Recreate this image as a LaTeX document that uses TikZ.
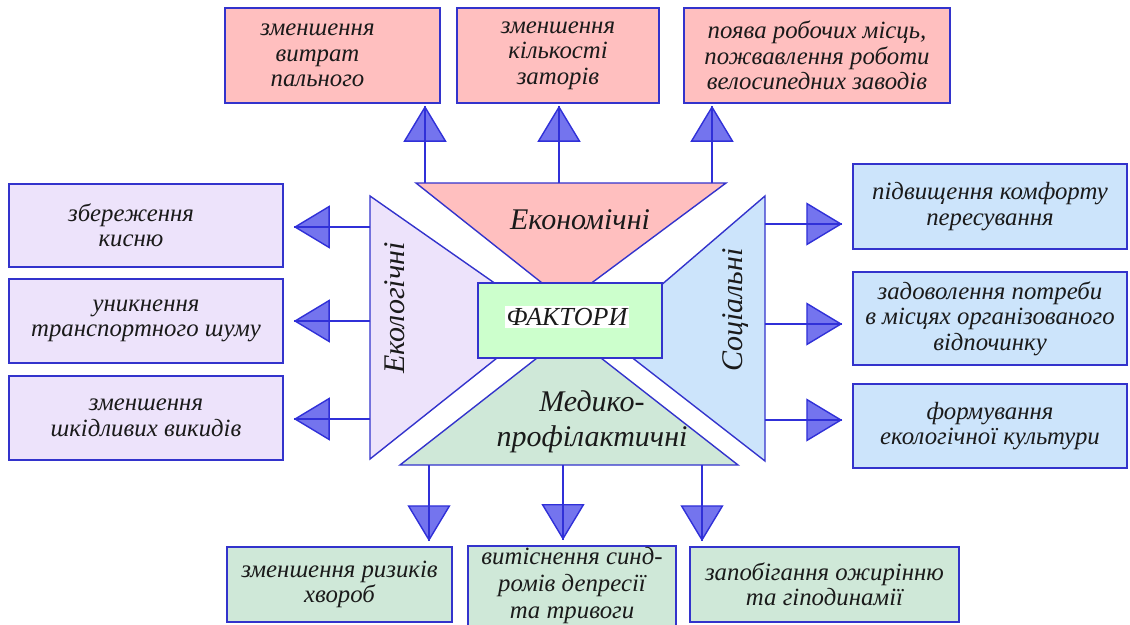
\documentclass[tikz,border=0pt]{standalone}
\usepackage{fontspec}
\setmainfont{Liberation Serif}
\usetikzlibrary{arrows.meta}
\definecolor{bord}{HTML}{3333CC}
\definecolor{pinkf}{HTML}{FFBFBF}
\definecolor{lavf}{HTML}{EDE3FB}
\definecolor{bluef}{HTML}{CCE4FB}
\definecolor{greenf}{HTML}{CFE8D8}
\definecolor{factf}{HTML}{CCFFCC}
\definecolor{arrf}{HTML}{7474EE}
\definecolor{arrd}{HTML}{3030D8}
\definecolor{txtc}{HTML}{1A1A1A}
\begin{document}
\begin{tikzpicture}[x=1pt,y=-1pt,
  box/.style={draw=bord, line width=1.5pt, inner sep=2pt, align=center, text=txtc,
    font=\fontsize{24.8}{25.5}\selectfont\itshape},
  tri/.style={draw=bord, line width=1.4pt},
  big/.style={text=txtc, font=\fontsize{30}{35}\selectfont\itshape, align=center},
  conn/.style={draw=arrd, line width=1.4pt,
    -{Triangle[width=43pt,length=36pt,fill=arrf]}, postaction={draw=arrd, -}}]
\useasboundingbox (0,0) rectangle (1130,624);

% ---- triangles
\draw[tri, fill=pinkf] (416,183) -- (726,183) -- (566,302) -- cycle;
\draw[tri, fill=lavf] (370,196) -- (370,459) -- (546,319) -- cycle;
\draw[tri, fill=bluef] (765,196) -- (765,461) -- (603,335) -- cycle;
\draw[tri, fill=greenf] (400,465) -- (738,465) -- (569,333) -- cycle;

% ---- centre box
\node[draw=bord, line width=1.5pt, fill=factf, minimum width=184pt, minimum height=75pt,
  inner sep=0pt] (fact) at (570,320.5) {};
\node[fill=white, inner sep=2pt, text=txtc, font=\fontsize{26}{30}\selectfont\itshape]
  (factt) at (567,317) {ФАКТОРИ};

% ---- triangle labels
\node[big] (econ) at (580,220) {Економічні};
\node[big, rotate=90] (eco) at (395,308) {Екологічні};
\node[big, rotate=90] (soc) at (736,310) {Соціальні};
\node[big] (med) at (592,422) {Медико-\\профілактичні};

% ---- top boxes
\node[box, fill=pinkf, minimum width=215pt, minimum height=95pt] (t1) at (332.5,55.5)
  {\hspace*{-30pt}зменшення\\\hspace*{-30pt}витрат\\\hspace*{-30pt}пального};
\node[box, fill=pinkf, minimum width=202pt, minimum height=95pt] (t2) at (558,55.5)
  {зменшення\\кількості\\заторів};
\node[box, fill=pinkf, minimum width=266pt, minimum height=95pt] (t3) at (817,55.5)
  {поява робочих місць,\\пожвавлення роботи\\велосипедних заводів};

% ---- left boxes
\node[box, fill=lavf, minimum width=274pt, minimum height=83pt] (l1) at (146,225.5)
  {\hspace*{-30pt}збереження\\\hspace*{-30pt}кисню};
\node[box, fill=lavf, minimum width=274pt, minimum height=84pt] (l2) at (146,321)
  {уникнення\\транспортного шуму};
\node[box, fill=lavf, minimum width=274pt, minimum height=84pt] (l3) at (146,418)
  {зменшення\\шкідливих викидів};

% ---- right boxes
\node[box, fill=bluef, minimum width=274pt, minimum height=85pt] (r1) at (990,206.5)
  {підвищення комфорту\\пересування};
\node[box, fill=bluef, minimum width=274pt, minimum height=93pt] (r2) at (990,318.5)
  {задоволення потреби\\в місцях організованого\\відпочинку};
\node[box, fill=bluef, minimum width=274pt, minimum height=84pt] (r3) at (990,426)
  {формування\\екологічної культури};

% ---- bottom boxes
\node[box, fill=greenf, minimum width=225pt, minimum height=75pt] (b1) at (339.5,584.5)
  {зменшення ризиків\\хвороб};
\node[box, fill=greenf, minimum width=208pt, minimum height=75pt,
  font=\fontsize{24.8}{27}\selectfont\itshape] (b2) at (572,586)
  {витіснення синд-\\ромів депресії\\та тривоги};
\node[box, fill=greenf, minimum width=269pt, minimum height=75pt] (b3) at (824.5,584.5)
  {запобігання ожирінню\\та гіподинамії};

% ---- connector start points on the triangles
\coordinate (et1) at (425,183);
\coordinate (et2) at (559,183);
\coordinate (et3) at (712,183);
\coordinate (el1) at (370,227);
\coordinate (el2) at (370,321);
\coordinate (el3) at (370,419);
\coordinate (er1) at (765,224);
\coordinate (er2) at (765,324);
\coordinate (er3) at (765,420);
\coordinate (eb1) at (429,465);
\coordinate (eb2) at (563,465);
\coordinate (eb3) at (702,465);

% ---- connectors
\draw[conn, shorten >=2pt] (et1) -- (et1 |- t1.south);
\draw[conn, shorten >=2pt] (et2) -- (et2 |- t2.south);
\draw[conn, shorten >=2pt] (et3) -- (et3 |- t3.south);
\draw[conn, shorten >=10pt] (el1) -- (el1 -| l1.east);
\draw[conn, shorten >=10pt] (el2) -- (el2 -| l2.east);
\draw[conn, shorten >=10pt] (el3) -- (el3 -| l3.east);
\draw[conn, shorten >=10pt] (er1) -- (er1 -| r1.west);
\draw[conn, shorten >=10pt] (er2) -- (er2 -| r2.west);
\draw[conn, shorten >=10pt] (er3) -- (er3 -| r3.west);
\draw[conn, shorten >=5pt] (eb1) -- (eb1 |- b1.north);
\draw[conn, shorten >=5pt] (eb2) -- (eb2 |- b2.north);
\draw[conn, shorten >=5pt] (eb3) -- (eb3 |- b3.north);
\end{tikzpicture}
\end{document}
